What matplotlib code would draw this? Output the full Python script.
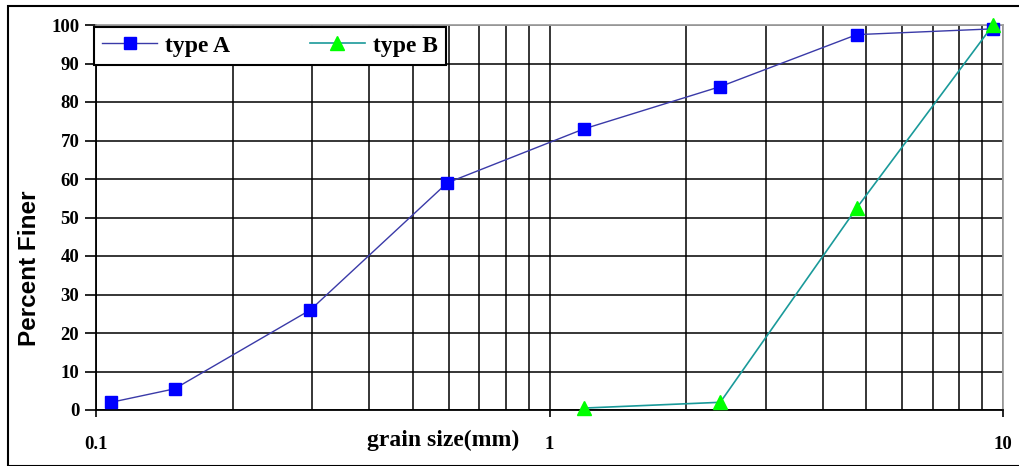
import matplotlib
matplotlib.use("Agg")
import matplotlib.pyplot as plt
from matplotlib.ticker import LogLocator, FixedLocator, NullFormatter, FixedFormatter
from matplotlib.patches import Rectangle

# Data
sizes_a = [0.108, 0.149, 0.297, 0.595, 1.19, 2.38, 4.76, 9.51]
finer_a = [2.0, 5.5, 26.0, 59.0, 73.0, 84.0, 97.5, 99.0]
sizes_b = [1.19, 2.38, 4.76, 9.51]
finer_b = [0.5, 2.0, 52.5, 100.0]
x_tick_vals = [0.1, 1, 10]
x_tick_labels = ["0.1", "1", "10"]
y_ticks = list(range(0, 101, 10))

W, H = 1019, 466
fig = plt.figure(figsize=(W / 100, H / 100), dpi=100)
ax = fig.add_axes([96 / W, 1 - 410 / H, (1003 - 96) / W, (410 - 25) / H])

serif = ["Liberation Serif", "DejaVu Serif"]
sans = ["Liberation Sans", "DejaVu Sans"]

ax.plot(sizes_a, finer_a, color="#3a3aa8", lw=1.0, marker="s", ms=9,
        mfc="#0000ff", mec="#0000ff", label="type A", zorder=3, clip_on=False)
ax.plot(sizes_b, finer_b, color="#1a9a9a", lw=1.2, marker="^", ms=10,
        mfc="#00ff00", mec="#00ff00", label="type B", zorder=3, clip_on=False)

ax.set_xscale("log")
ax.set_xlim(0.1, 10)
ax.set_ylim(0, 100)
ax.xaxis.set_major_locator(FixedLocator(x_tick_vals))
ax.xaxis.set_major_formatter(FixedFormatter(x_tick_labels))
ax.xaxis.set_minor_locator(LogLocator(base=10, subs=range(2, 10), numticks=20))
ax.xaxis.set_minor_formatter(NullFormatter())
ax.set_yticks(y_ticks)

ax.grid(True, which="both", axis="x", color="black", lw=1.1)
ax.grid(True, which="major", axis="y", color="black", lw=1.1)
ax.set_axisbelow(True)

ax.tick_params(axis="y", which="major", direction="out", length=8, width=1.2,
               labelsize=13.5, pad=4)
ax.tick_params(axis="x", which="major", direction="out", length=5, width=1.2,
               labelsize=13.5, pad=14)
ax.tick_params(axis="x", which="minor", length=0)
for lab in ax.get_xticklabels() + ax.get_yticklabels():
    lab.set_family(serif)
    lab.set_fontweight("bold")

for s in ["left", "bottom"]:
    ax.spines[s].set_color("black")
    ax.spines[s].set_linewidth(1.3)
for s in ["top", "right"]:
    ax.spines[s].set_color("#a0a0a0")
    ax.spines[s].set_linewidth(1.3)

fig.text(30 / W, 1 - 268 / H, "Percent Finer", family=sans, fontweight="bold",
         fontsize=17.5, rotation=90, ha="center", va="center")
fig.text(443 / W, 1 - 440 / H, "grain size(mm)", family=serif, fontweight="bold",
         fontsize=17, ha="center", va="center")

leg = ax.legend(loc="upper left", ncol=2, bbox_to_anchor=(-0.002, 0.995),
                frameon=True, fancybox=False, edgecolor="black", framealpha=1,
                prop={"family": serif, "weight": "bold", "size": 17},
                handlelength=2.3, columnspacing=3.4, borderpad=0.35,
                handletextpad=0.35, borderaxespad=0)
leg.get_frame().set_linewidth(1.5)
leg.set_zorder(5)

fig.patches.append(Rectangle((8 / W, 0), (W - 8 + 5) / W, 1 - 6 / H,
                             transform=fig.transFigure, fill=False,
                             edgecolor="black", lw=1.5))

fig.savefig("out.png", dpi=100)
